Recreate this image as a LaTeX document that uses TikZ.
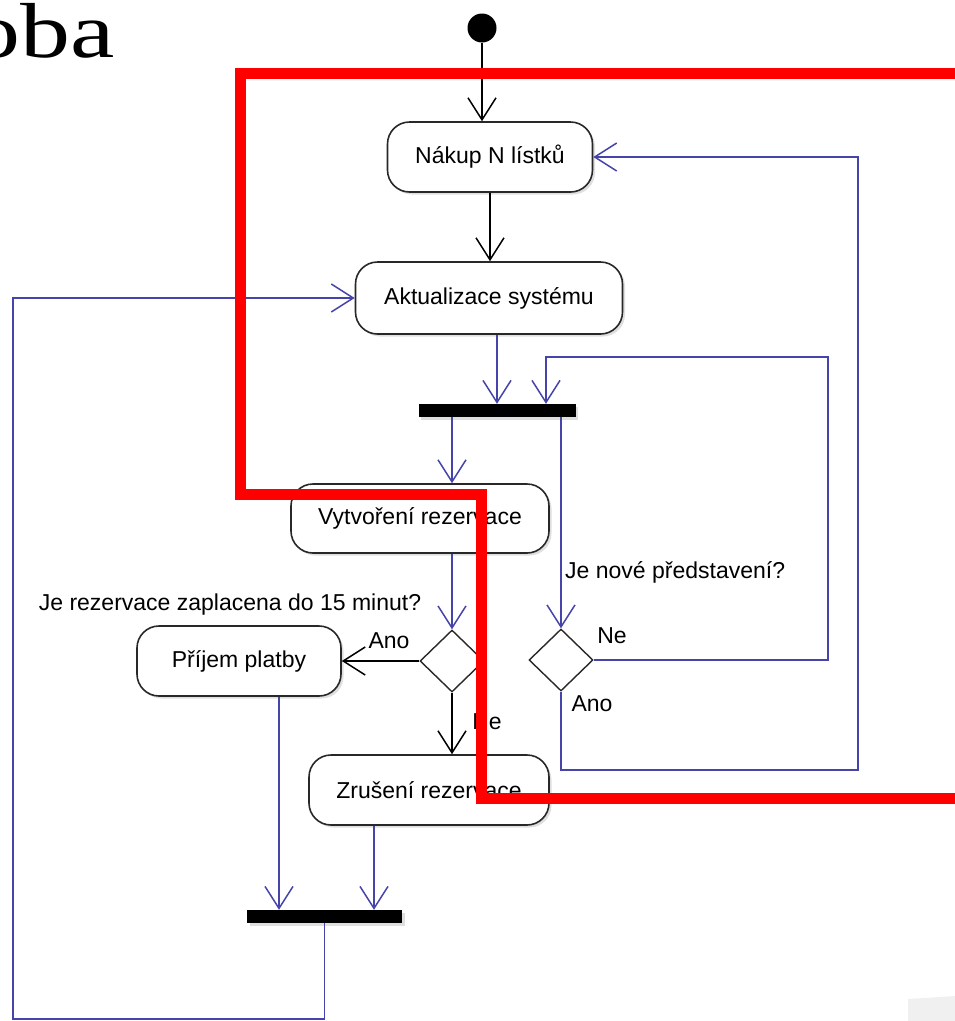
\documentclass[tikz,border=0pt]{standalone}
\usepackage{fontspec}
\setmainfont{Liberation Sans}
\newfontfamily\titlefont[FakeStretch=1.28]{Liberation Serif}
\usetikzlibrary{arrows.meta,shapes.geometric,shadows,calc}
\definecolor{umlblue}{RGB}{68,68,170}
\definecolor{edgegray}{RGB}{40,40,40}
\definecolor{cornergray}{RGB}{240,240,240}
\begin{document}
\begin{tikzpicture}[x=1pt,y=-1pt,
  every node/.style={font=\fontsize{23}{27}\selectfont},
  shad/.style={drop shadow={opacity=0.25,shadow xshift=2.5pt,shadow yshift=-2.5pt}},
  act/.style={draw=edgegray, line width=1.6pt, rounded corners=22pt, fill=white, minimum height=70pt, inner sep=0pt, shad},
  bar/.style={fill=black, draw=none, minimum height=13pt, inner sep=0pt, shad},
  dec/.style={diamond, draw=edgegray, line width=1.4pt, fill=white, minimum width=64pt, minimum height=62pt, inner sep=0pt},
  uarr/.style={-{Straight Barb[length=22pt,width=28pt]}},
  bl/.style={draw=umlblue, line width=1.5pt},
  bk/.style={draw=black, line width=1.5pt},
  lab/.style={inner sep=0pt}
]
\useasboundingbox (0,0) rectangle (955,1021);
\fill[cornergray] (908,999) -- (955,996) -- (955,1021) -- (908,1021) -- cycle;

% title fragment
\node[anchor=base east, inner sep=0pt, font=\titlefont\fontsize{78}{90}\selectfont] (title) at (115,57) {oba};

% nodes
\node[circle, fill=black, minimum size=29pt, inner sep=0pt] (start) at (482,28) {};
\node[act, minimum width=205pt] (nakup) at (490,157) {Nákup N lístků};
\node[act, minimum width=267pt, minimum height=72pt] (akt) at (489,298) {Aktualizace systému};
\node[bar, minimum width=157pt] (bar1) at (497,410.5) {};
\node[act, minimum width=258pt, minimum height=69pt] (vyt) at (420,518.5) {Vytvoření rezervace};
\node[dec] (d1) at (452,661) {};
\node[dec] (d2) at (561,660) {};
\node[act, minimum width=204pt] (prijem) at (239,661) {Příjem platby};
\node[act, minimum width=240pt] (zrus) at (429,790) {Zrušení rezervace};
\node[bar, minimum width=155pt] (bar2) at (324.5,916.5) {};

\coordinate (r1) at (828,357);
\coordinate (r2) at (858,770);
\coordinate (r3) at (13,1019);

% labels
\node[lab, anchor=west] (q2) at (565,572) {Je nové představení?};
\node[lab] (ne2) at (612,636) {Ne};
\node[lab] (ano2) at (592,704) {Ano};
\node[lab] (q1) at (230,605) {Je rezervace zaplacena do 15 minut?};
\node[lab] (ano1) at (389,641) {Ano};
\node[lab] (ne1) at (487,722) {Ne};

% connectors
\draw[bk, uarr] (start.south) -- (start.south |- nakup.north);
\draw[bk, uarr] (nakup.south) -- (nakup.south |- akt.north);
\draw[bl, uarr] (akt.south -| bar1.north) -- (bar1.north);
\draw[bl, uarr] (bar1.south -| d1.north) -- (vyt.north -| d1.north);
\draw[bl, uarr] (bar1.south -| d2.north) -- (d2.north);
\draw[bl, uarr] (d2.east) -| (r1) -| ([xshift=49pt]bar1.north);
\draw[bl, uarr] (vyt.south -| d1.north) -- (d1.north);
\draw[bk, uarr] (d1.west) -- (d1.west -| prijem.east);
\draw[bk, uarr] (d1.south) -- (d1.south |- zrus.north);
\draw[bl, uarr] (d2.south) |- (r2) |- (nakup.east);
\draw[bl, uarr] ([xshift=40pt]prijem.south) -- ([xshift=40pt]prijem.south |- bar2.north);
\draw[bl, uarr] (zrus.south -| 374,0) -- (bar2.north -| 374,0);
\draw[bl, uarr] (bar2.south) |- (r3) |- (akt.west);

% red overlay
\draw[red, line width=11pt, line join=miter] (960,73) -- (240,73) -- (240,494) -- (481,494) -- (481,798) -- (960,798);
\end{tikzpicture}
\end{document}
